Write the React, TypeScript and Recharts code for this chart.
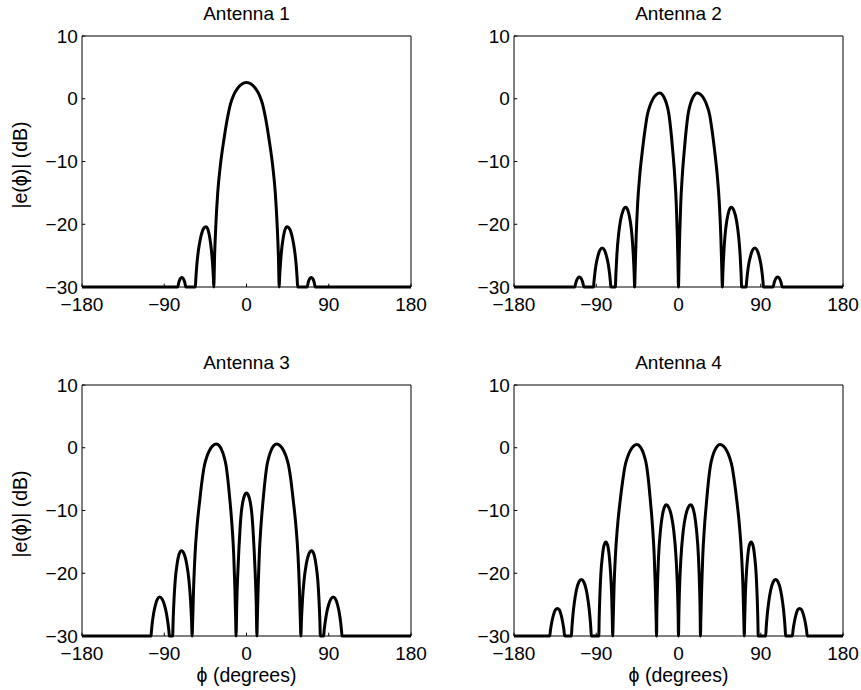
import React from 'react';
import { LineChart, Line, XAxis, YAxis } from 'recharts';

type Pt = [number, number];

const X_TICKS = [-180, -90, 0, 90, 180];
const Y_TICKS = [-30, -20, -10, 0, 10];
const X_DOMAIN: [number, number] = [-180, 180];
const Y_DOMAIN: [number, number] = [-30, 10];
const TITLES = ['Antenna 1', 'Antenna 2', 'Antenna 3', 'Antenna 4'];
const Y_LABEL = '|e(\u03d5)| (dB)';
const X_LABEL = '\u03d5 (degrees)';

// [phi (degrees), |e(phi)| (dB)] (floor at -30 dB)
const ANTENNA_1: Pt[] = [
  [-180, -30], [-75.3, -30], [-73.95, -29.2], [-72.6, -28.7], [-70.8, -28.5], [-69, -28.7], [-67.65, -29.2], [-66.3, -30],
  [-56, -30], [-55.4, -28.6], [-54.3, -26.4], [-52.55, -24.1], [-50.25, -22.2], [-47.4, -20.8], [-44.5, -20.4], [-42.3, -20.8], [-40.15, -22.2], [-38.4, -24.1], [-37.1, -26.4], [-36.2, -28.6], [-35.8, -30],
  [-34.9, -25], [-33.5, -20], [-31.5, -15], [-28.5, -10.5], [-24.5, -6.3], [-21, -3.2], [-17.5, -0.8], [-14, 0.6], [-10, 1.6], [-5, 2.35], [0, 2.6],
  [5, 2.35], [10, 1.6], [14, 0.6], [17.5, -0.8], [21, -3.2], [24.5, -6.3], [28.5, -10.5], [31.5, -15], [33.5, -20], [34.9, -25],
  [35.8, -30], [36.2, -28.6], [37.1, -26.4], [38.4, -24.1], [40.15, -22.2], [42.3, -20.8], [44.5, -20.4], [47.4, -20.8], [50.25, -22.2], [52.55, -24.1], [54.3, -26.4], [55.4, -28.6], [56, -30],
  [66.3, -30], [67.65, -29.2], [69, -28.7], [70.8, -28.5], [72.6, -28.7], [73.95, -29.2], [75.3, -30], [180, -30],
];

const ANTENNA_2: Pt[] = [
  [-180, -30], [-113.6, -30], [-112.1, -29.2], [-110.5, -28.65], [-108.5, -28.4], [-106.5, -28.65], [-104.9, -29.2], [-103.4, -30],
  [-93, -30], [-92.5, -29.2], [-91.6, -27.9], [-90.2, -26.4], [-88.25, -25.1], [-85.9, -24.1], [-83.5, -23.8], [-81.1, -24.1], [-78.75, -25.1], [-76.8, -26.4], [-75.4, -27.9], [-74.5, -29.2], [-74, -30],
  [-69.1, -30], [-68.5, -27.9], [-67.4, -24.8], [-65.7, -21.8], [-63.45, -19.4], [-60.6, -17.8], [-57.8, -17.3], [-55.35, -17.8], [-52.9, -19.4], [-50.9, -21.8], [-49.5, -24.8], [-48.5, -27.9], [-48, -30],
  [-47.3, -26.7], [-46.25, -21.7], [-44.7, -16.7], [-42.4, -12.2], [-39.3, -8], [-36.6, -4.9], [-34, -2.5], [-31.2, -1.1], [-28.2, -0.1], [-24.35, 0.65], [-20.5, 0.9], [-17.6, 0.65], [-14.8, -0.1], [-12.5, -1.1], [-10.45, -2.5], [-8.47, -4.9], [-6.48, -8], [-4.18, -12.2], [-2.46, -16.7], [-1.31, -21.7], [-0.51, -26.7], [0, -30],
  [0.51, -26.7], [1.31, -21.7], [2.46, -16.7], [4.18, -12.2], [6.48, -8], [8.47, -4.9], [10.45, -2.5], [12.5, -1.1], [14.8, -0.1], [17.6, 0.65], [20.5, 0.9], [24.35, 0.65], [28.2, -0.1], [31.2, -1.1], [34, -2.5], [36.6, -4.9], [39.3, -8], [42.4, -12.2], [44.7, -16.7], [46.25, -21.7], [47.3, -26.7], [48, -30],
  [48.5, -27.9], [49.5, -24.8], [50.9, -21.8], [52.9, -19.4], [55.35, -17.8], [57.8, -17.3], [60.6, -17.8], [63.45, -19.4], [65.7, -21.8], [67.4, -24.8], [68.5, -27.9], [69.1, -30],
  [74, -30], [74.5, -29.2], [75.4, -27.9], [76.8, -26.4], [78.75, -25.1], [81.1, -24.1], [83.5, -23.8], [85.9, -24.1], [88.25, -25.1], [90.2, -26.4], [91.6, -27.9], [92.5, -29.2], [93, -30],
  [103.4, -30], [104.9, -29.2], [106.5, -28.65], [108.5, -28.4], [110.5, -28.65], [112.1, -29.2], [113.6, -30], [180, -30],
];

const ANTENNA_3: Pt[] = [
  [-180, -30],
  [-104.5, -30], [-104, -29.2], [-103.1, -27.9], [-101.65, -26.4], [-99.75, -25.1], [-97.4, -24.1], [-95, -23.8], [-92.35, -24.1], [-89.7, -25.1], [-87.6, -26.4], [-86, -27.9], [-84.9, -29.2], [-84.4, -30],
  [-80.8, -30], [-80.3, -27.6], [-79.35, -24.3], [-78, -21.1], [-76, -18.6], [-73.6, -16.9], [-71.2, -16.4], [-68.3, -16.9], [-65.35, -18.6], [-63, -21.1], [-61.25, -24.3], [-60.1, -27.6], [-59.5, -30],
  [-58.8, -27], [-57.8, -22], [-56.3, -17], [-54.1, -12.5], [-51.1, -8.3], [-48.6, -5.2], [-46, -2.8], [-43.3, -1.4], [-40.4, -0.4], [-36.7, 0.35], [-33, 0.6], [-30, 0.35], [-27, -0.4], [-24.6, -1.4], [-22.4, -2.8], [-20.3, -5.2], [-18.2, -8.3], [-15.8, -12.5], [-14, -17], [-12.8, -22], [-11.9, -27], [-11.4, -30],
  [-10.65, -24.8], [-9.6, -20.3], [-8.3, -16.1], [-7.1, -13], [-5.9, -10.6], [-4.7, -9.2], [-3.4, -8.2], [-1.7, -7.45], [0, -7.2],
  [1.7, -7.45], [3.4, -8.2], [4.7, -9.2], [5.9, -10.6], [7.1, -13], [8.3, -16.1], [9.6, -20.3], [10.65, -24.8], [11.4, -30],
  [11.9, -27], [12.8, -22], [14, -17], [15.8, -12.5], [18.2, -8.3], [20.3, -5.2], [22.4, -2.8], [24.6, -1.4], [27, -0.4], [30, 0.35], [33, 0.6], [36.7, 0.35], [40.4, -0.4], [43.3, -1.4], [46, -2.8], [48.6, -5.2], [51.1, -8.3], [54.1, -12.5], [56.3, -17], [57.8, -22], [58.8, -27], [59.5, -30],
  [60.1, -27.6], [61.25, -24.3], [63, -21.1], [65.35, -18.6], [68.3, -16.9], [71.2, -16.4], [73.6, -16.9], [76, -18.6], [78, -21.1], [79.35, -24.3], [80.3, -27.6], [80.8, -30],
  [84.4, -30], [84.9, -29.2], [86, -27.9], [87.6, -26.4], [89.7, -25.1], [92.35, -24.1], [95, -23.8], [97.4, -24.1], [99.75, -25.1], [101.65, -26.4], [103.1, -27.9], [104, -29.2], [104.5, -30], [180, -30],
];

const ANTENNA_4: Pt[] = [
  [-180, -30],
  [-140.9, -30], [-140.05, -29], [-138.4, -27.6], [-136.7, -26.6], [-134.6, -25.8], [-132.5, -25.6], [-130.5, -25.8], [-128.55, -26.6], [-127, -27.6], [-125.4, -29], [-124.6, -30],
  [-117.2, -30], [-116.65, -28.7], [-115.55, -26.7], [-113.9, -24.6], [-111.75, -22.7], [-109, -21.4], [-106.3, -21], [-103.6, -21.4], [-100.85, -22.7], [-98.7, -24.6], [-97.05, -26.7], [-95.95, -28.7], [-95.4, -30],
  [-87.2, -30], [-86.8, -27.2], [-86, -23.45], [-84.9, -20], [-83.3, -17.3], [-81.4, -15.5], [-79.5, -15], [-77.6, -15.5], [-75.75, -17.3], [-74.3, -20], [-73.15, -23.45], [-72.45, -27.2], [-72, -30],
  [-71.4, -27.1], [-70.5, -22.1], [-69, -17.1], [-66.8, -12.6], [-63.8, -8.4], [-61.1, -5.3], [-58.5, -2.9], [-55.8, -1.5], [-52.9, -0.5], [-49.2, 0.25], [-45.4, 0.5], [-42.4, 0.25], [-39.4, -0.5], [-37.05, -1.5], [-34.9, -2.9], [-32.8, -5.3], [-30.8, -8.4], [-28.4, -12.6], [-26.6, -17.1], [-25.4, -22.1], [-24.5, -27.1], [-24, -30],
  [-23.7, -26.5], [-23.15, -22.8], [-21.9, -17.6], [-19.7, -13.1], [-17.6, -10.7], [-15.45, -9.5], [-13.3, -9.1], [-10.65, -9.5], [-8, -10.7], [-5.3, -13.1], [-2.65, -17.6], [-1.05, -22.8], [-0.4, -26.5], [0, -30],
  [0.4, -26.5], [1.05, -22.8], [2.65, -17.6], [5.3, -13.1], [8, -10.7], [10.65, -9.5], [13.3, -9.1], [15.45, -9.5], [17.6, -10.7], [19.7, -13.1], [21.9, -17.6], [23.15, -22.8], [23.7, -26.5], [24, -30],
  [24.5, -27.1], [25.4, -22.1], [26.6, -17.1], [28.4, -12.6], [30.8, -8.4], [32.8, -5.3], [34.9, -2.9], [37.05, -1.5], [39.4, -0.5], [42.4, 0.25], [45.4, 0.5], [49.2, 0.25], [52.9, -0.5], [55.8, -1.5], [58.5, -2.9], [61.1, -5.3], [63.8, -8.4], [66.8, -12.6], [69, -17.1], [70.5, -22.1], [71.4, -27.1], [72, -30],
  [72.45, -27.2], [73.15, -23.45], [74.3, -20], [75.75, -17.3], [77.6, -15.5], [79.5, -15], [81.4, -15.5], [83.3, -17.3], [84.9, -20], [86, -23.45], [86.8, -27.2], [87.2, -30],
  [95.4, -30], [95.95, -28.7], [97.05, -26.7], [98.7, -24.6], [100.85, -22.7], [103.6, -21.4], [106.3, -21], [109, -21.4], [111.75, -22.7], [113.9, -24.6], [115.55, -26.7], [116.65, -28.7], [117.2, -30],
  [124.6, -30], [125.4, -29], [127, -27.6], [128.55, -26.6], [130.5, -25.8], [132.5, -25.6], [134.6, -25.8], [136.7, -26.6], [138.4, -27.6], [140.05, -29], [140.9, -30], [180, -30],
];

const SERIES = [ANTENNA_1, ANTENNA_2, ANTENNA_3, ANTENNA_4];

const FONT = '"Liberation Sans", Arial, Helvetica, sans-serif';
const FS = 19;
const LABEL_FS = 19.5;

// plot-area boxes (layout only)
const BOXES = [
  { left: 82, top: 36, w: 329, h: 251, yLabel: true, xLabel: false },
  { left: 514, top: 36, w: 329, h: 251, yLabel: false, xLabel: false },
  { left: 82, top: 385, w: 329, h: 251, yLabel: true, xLabel: true },
  { left: 514, top: 385, w: 329, h: 251, yLabel: false, xLabel: true },
];

const YW = 60;
const YR = 40;
const XT = 10;
const XB = 40;
const TICK = -3.3;

const fmt = (v: number) => String(v).replace('-', '\u2212');

const textStyle: React.CSSProperties = {
  position: 'absolute',
  fontFamily: FONT,
  fontSize: FS,
  lineHeight: 1,
  color: '#000',
  whiteSpace: 'nowrap',
};

function Panel({ idx }: { idx: number }) {
  const b = BOXES[idx];
  const rows = SERIES[idx].map(([x, y]) => ({ x, y }));
  const tickStyle = { fill: '#000', fontSize: FS, fontFamily: FONT };
  return (
    <>
      <div style={{ position: 'absolute', left: b.left - YW, top: b.top - XT }}>
        <LineChart
          width={b.w + YW + YR}
          height={b.h + XT + XB}
          data={rows}
          margin={{ top: 0, right: 0, bottom: 0, left: 0 }}
        >
          <XAxis
            xAxisId="b"
            dataKey="x"
            type="number"
            domain={X_DOMAIN}
            ticks={X_TICKS}
            interval={0}
            orientation="bottom"
            height={XB}
            stroke="#000"
            tickSize={TICK}
            tickMargin={14.2}
            tick={tickStyle}
            tickFormatter={fmt}
          />
          <XAxis
            xAxisId="t"
            type="number"
            domain={X_DOMAIN}
            ticks={X_TICKS}
            interval={0}
            orientation="top"
            height={XT}
            stroke="#000"
            tickSize={TICK}
            tick={false}
            allowDataOverflow
          />
          <YAxis
            yAxisId="l"
            type="number"
            domain={Y_DOMAIN}
            ticks={Y_TICKS}
            interval={0}
            orientation="left"
            width={YW}
            stroke="#000"
            tickSize={TICK}
            tickMargin={7.5}
            tick={tickStyle}
            tickFormatter={fmt}
          />
          <YAxis
            yAxisId="r"
            type="number"
            domain={Y_DOMAIN}
            ticks={Y_TICKS}
            interval={0}
            orientation="right"
            width={YR}
            stroke="#000"
            tickSize={TICK}
            tick={false}
            allowDataOverflow
          />
          <Line
            xAxisId="b"
            yAxisId="l"
            dataKey="y"
            type="monotone"
            stroke="#000"
            strokeWidth={3}
            dot={false}
            activeDot={false}
            isAnimationActive={false}
          />
        </LineChart>
      </div>
      <div
        style={{
          ...textStyle,
          left: b.left + b.w / 2,
          top: b.top - 16 - 0.8465 * FS,
          transform: 'translateX(-50%)',
        }}
      >
        {TITLES[idx]}
      </div>
      {b.yLabel && (
        <div
          style={{
            ...textStyle,
            fontSize: LABEL_FS,
            left: 28.1 - 0.3465 * LABEL_FS,
            top: b.top + b.h / 2 + 3.5,
            transform: 'translate(-50%, -50%) rotate(-90deg)',
          }}
        >
          {Y_LABEL}
        </div>
      )}
      {b.xLabel && (
        <div
          style={{
            ...textStyle,
            fontSize: LABEL_FS,
            left: b.left + b.w / 2,
            top: b.top + b.h + 46.8 - 0.8465 * LABEL_FS,
            transform: 'translateX(-50%)',
          }}
        >
          {X_LABEL}
        </div>
      )}
    </>
  );
}

export default function App() {
  return (
    <div
      style={{
        position: 'absolute',
        left: 0,
        top: 0,
        width: 861,
        height: 690,
        background: '#fff',
        overflow: 'hidden',
      }}
    >
      {[0, 1, 2, 3].map((i) => (
        <Panel key={i} idx={i} />
      ))}
    </div>
  );
}
